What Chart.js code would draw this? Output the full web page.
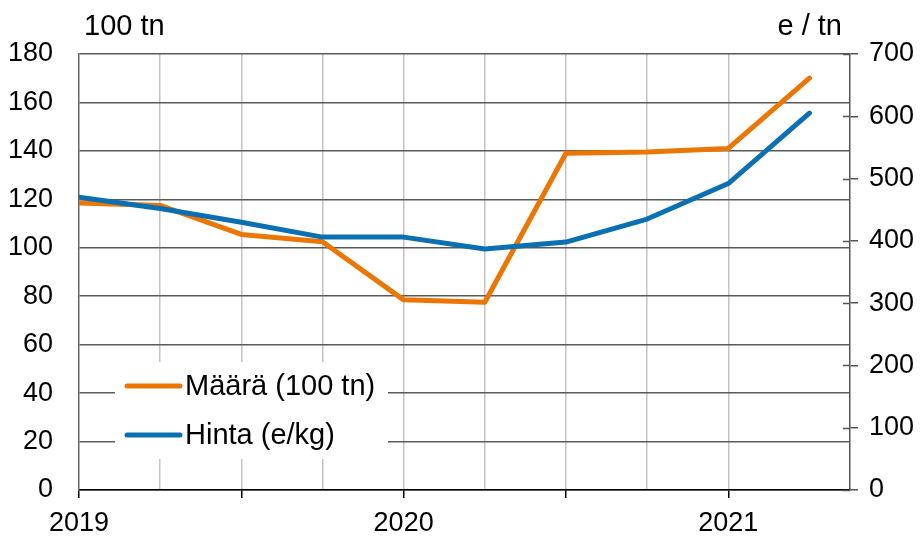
<!DOCTYPE html>
<html>
<head>
<meta charset="utf-8">
<script src="https://cdn.jsdelivr.net/npm/chart.js@4/dist/chart.umd.min.js"></script>
<style>
  html, body { margin: 0; padding: 0; background: #fff; }
  #wrap { width: 921px; height: 538px; }
</style>
</head>
<body>
<div id="wrap"><canvas id="chart" width="921" height="538"></canvas></div>
<script>
// quarters 2019 Q1 .. 2021 Q2
var quarters = ['2019 Q1', '2019 Q2', '2019 Q3', '2019 Q4', '2020 Q1', '2020 Q2', '2020 Q3', '2020 Q4', '2021 Q1', '2021 Q2'];
var years = ['2019', '2020', '2021'];
var maara = [118.5, 117.5, 105.5, 102.5, 78.5, 77.5, 139, 139.5, 141, 170];
var hinta = [470, 452, 430, 406, 406, 387, 398, 435, 492, 605];
var seriesNames = ['Määrä (100 tn)', 'Hinta (e/kg)'];
var leftTitle = '100 tn';
var rightTitle = 'e / tn';

var FONT = '"Liberation Sans", Arial, sans-serif';
var ORANGE = '#eb7603';
var BLUE = '#0b70b1';

function toPoints(arr) {
  return arr.map(function (v, i) { return { x: i, y: v }; });
}

// titles above the axes
var titlePlugin = {
  id: 'titles',
  afterDraw: function (chart) {
    var c = chart.ctx;
    c.save();
    c.fillStyle = '#000';
    c.font = '29px ' + FONT;
    c.textBaseline = 'alphabetic';
    c.textAlign = 'left';
    c.fillText(leftTitle, 84, 35);
    c.textAlign = 'right';
    c.fillText(rightTitle, 842, 35);
    c.restore();
  }
};

// small tick marks on the inner side of the right axis
var innerTicks = {
  id: 'innerTicks',
  beforeDatasetsDraw: function (chart) {
    var s = chart.scales.y1;
    var c = chart.ctx;
    c.save();
    c.strokeStyle = '#555';
    c.lineWidth = 1.5;
    s.ticks.forEach(function (t) {
      var y = Math.round(s.getPixelForValue(t.value)) + 0.5;
      c.beginPath();
      c.moveTo(s.left - 7, y);
      c.lineTo(s.left, y);
      c.stroke();
    });
    c.restore();
  }
};

// legend box inside the plot
var boxLegend = {
  id: 'boxLegend',
  afterDatasetsDraw: function (chart) {
    var c = chart.ctx;
    c.save();
    c.fillStyle = '#fff';
    c.fillRect(115, 362, 273, 97);
    chart.data.datasets.forEach(function (ds, i) {
      var y = 386 + i * 49;
      c.strokeStyle = ds.borderColor;
      c.lineWidth = 5;
      c.lineCap = 'round';
      c.beginPath();
      c.moveTo(127, y);
      c.lineTo(180, y);
      c.stroke();
      c.fillStyle = '#000';
      c.font = '29px ' + FONT;
      c.textAlign = 'left';
      c.textBaseline = 'middle';
      c.fillText(ds.label, 185, y + 1);
    });
    c.restore();
  }
};

new Chart(document.getElementById('chart'), {
  type: 'line',
  data: {
    datasets: [
      {
        label: seriesNames[0],
        data: toPoints(maara),
        borderColor: ORANGE,
        backgroundColor: ORANGE,
        borderWidth: 5,
        pointRadius: 0,
        tension: 0,
        borderCapStyle: 'round',
        borderJoinStyle: 'round',
        yAxisID: 'y',
        order: 1
      },
      {
        label: seriesNames[1],
        data: toPoints(hinta),
        borderColor: BLUE,
        backgroundColor: BLUE,
        borderWidth: 5,
        pointRadius: 0,
        tension: 0,
        borderCapStyle: 'round',
        borderJoinStyle: 'round',
        yAxisID: 'y1',
        order: 0
      }
    ]
  },
  options: {
    responsive: false,
    animation: false,
    layout: { padding: { top: 54, left: 0, right: 0, bottom: 0 } },
    plugins: { legend: { display: false }, tooltip: { enabled: false } },
    scales: {
      x: {
        type: 'linear',
        min: 0,
        max: quarters.length - 0.5,
        afterFit: function (s) { s.height = 48; },
        ticks: {
          stepSize: 1,
          autoSkip: false,
          maxRotation: 0,
          padding: 9,
          color: '#000',
          font: { family: FONT, size: 27 },
          callback: function (v) {
            return (v % 4 === 0) ? years[v / 4] : '';
          }
        },
        grid: {
          color: function (ctx) {
            var v = ctx.tick ? ctx.tick.value : 0;
            return (v > 0 && v < quarters.length - 0.5) ? '#c4c4c4' : 'rgba(0,0,0,0)';
          },
          lineWidth: 1.5,
          tickLength: 8,
          tickColor: function (ctx) {
            var v = ctx.tick ? ctx.tick.value : 1;
            return (v % 2 === 0) ? '#000' : 'rgba(0,0,0,0)';
          },
          tickWidth: 1.5
        },
        border: { color: '#000', width: 1.5 }
      },
      y: {
        position: 'left',
        min: 0,
        max: 180,
        afterFit: function (s) { s.width = 79; },
        ticks: {
          stepSize: 20,
          padding: 26,
          color: '#000',
          font: { family: FONT, size: 27 }
        },
        grid: { color: '#5a5a5a', lineWidth: 1.5, drawTicks: false },
        border: { color: '#666', width: 1.5 }
      },
      y1: {
        position: 'right',
        min: 0,
        max: 700,
        afterFit: function (s) { s.width = 71; },
        ticks: {
          stepSize: 100,
          padding: 11,
          color: '#000',
          font: { family: FONT, size: 27 }
        },
        grid: { drawOnChartArea: false, drawTicks: true, tickLength: 8, color: '#555', lineWidth: 1.5 },
        border: { color: '#555', width: 1.5 }
      }
    }
  },
  plugins: [innerTicks, boxLegend, titlePlugin]
});
</script>
</body>
</html>
